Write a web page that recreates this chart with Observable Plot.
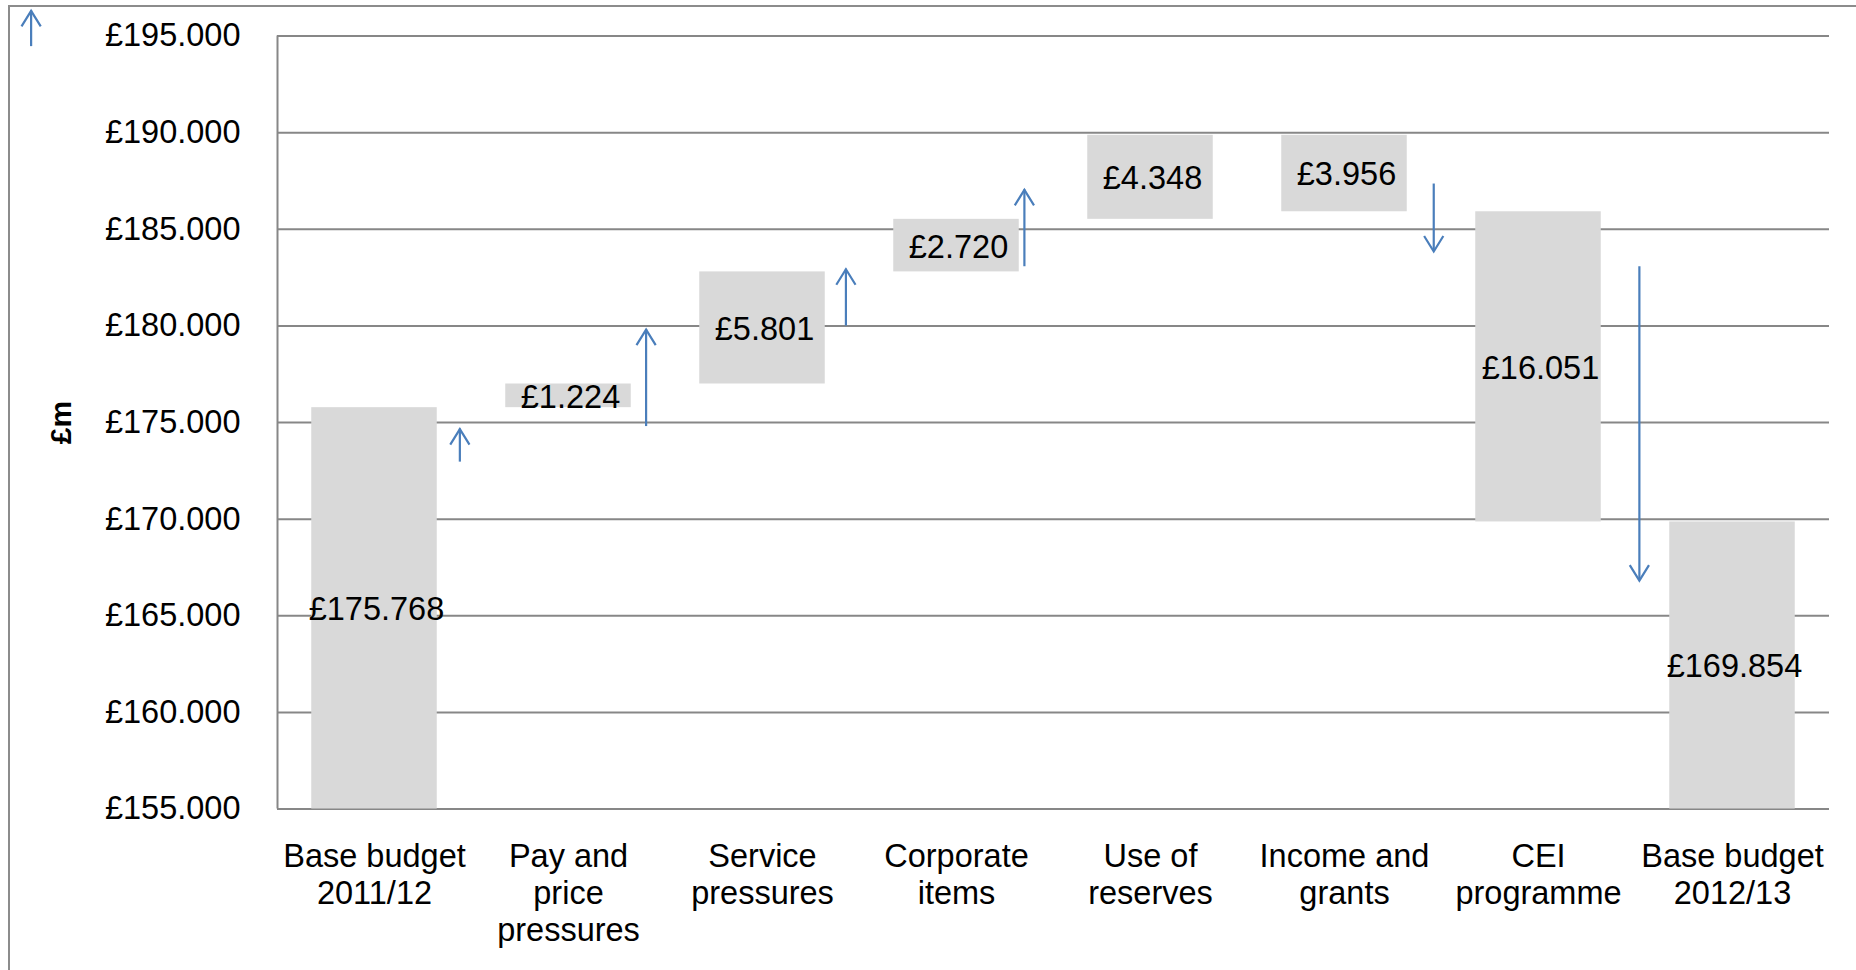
<!DOCTYPE html>
<html>
<head>
<meta charset="utf-8">
<script src="https://cdn.jsdelivr.net/npm/d3@7"></script>
<script src="https://cdn.jsdelivr.net/npm/@observablehq/plot@0.6"></script>
<style>
  html, body { margin: 0; padding: 0; background: #fff; overflow: hidden; }
  #frame { position: absolute; left: 8px; top: 5px; width: 3000px; height: 3000px;
           border-left: 2px solid #8c8c8c; border-top: 2px solid #8c8c8c; }
  #chart { position: absolute; left: 0; top: 0; }
</style>
</head>
<body>
<div id="frame"></div>
<div id="chart"></div>
<script>
// ---- data ----
const categories = [
  "Base budget\n2011/12",
  "Pay and\nprice\npressures",
  "Service\npressures",
  "Corporate\nitems",
  "Use of\nreserves",
  "Income and\ngrants",
  "CEI\nprogramme",
  "Base budget\n2012/13"
];
const changes = [175.768, 1.224, 5.801, 2.720, 4.348, -3.956, -16.051, 169.854];
const isTotal = [true, false, false, false, false, false, false, true];
const yTicks = [155, 160, 165, 170, 175, 180, 185, 190, 195];

// arrows: x in category-index units, start value, end (tip) value
const arrowX    = [0.44, 1.40, 2.43, 3.35, 5.46, 6.52, -1.77];
const arrowFrom = [172.95, 174.79, 179.99, 183.06, 187.34, 183.06, 194.45];
const arrowTo   = [174.66, 179.81, 182.93, 187.04, 183.85, 166.82, 196.30];

// ---- build waterfall table ----
let running = 0;
const bars = categories.map((c, i) => {
  let lo, hi;
  if (isTotal[i]) { lo = 0; hi = changes[i]; running = changes[i]; }
  else { const start = running; running += changes[i]; lo = Math.min(start, running); hi = Math.max(start, running); }
  return { i, c, lo, hi, mid: isTotal[i] ? (Math.max(lo, yTicks[0]) + hi) / 2 : (lo + hi) / 2,
           label: "£" + Math.abs(changes[i]).toFixed(3) };
});
const arrows = arrowX.map((x, k) => ({ x, from: arrowFrom[k], to: arrowTo[k] }));

const half = 0.3235;
const blue = "#4a7ebb";
const gridColor = "#878787";
const fs = 32.5;

const chevron = {
  draw(ctx, size) {
    const r = Math.sqrt(size / Math.PI);
    ctx.moveTo(-0.62 * r, r);
    ctx.lineTo(0, 0);
    ctx.lineTo(0.62 * r, r);
  }
};

const chart = Plot.plot({
  width: 1856,
  height: 970,
  marginLeft: 277,
  marginRight: 27,
  marginTop: 35.5,
  marginBottom: 161.5,
  style: { fontFamily: "'Liberation Sans', Arial, sans-serif", fontSize: fs + "px", background: "transparent", color: "#000", overflow: "visible" },
  x: { type: "linear", domain: [-0.5, 7.5], axis: null },
  y: { domain: [155, 195], axis: null },
  marks: [
    Plot.ruleY(yTicks, { stroke: gridColor, strokeWidth: 2 }),
    Plot.ruleX([-0.5], { y1: 155, y2: 195, stroke: gridColor, strokeWidth: 2 }),
    Plot.rectY(bars, { x1: d => d.i - half, x2: d => d.i + half, y1: "lo", y2: "hi", fill: "#d9d9d9", clip: true }),
    Plot.text(bars, { x: "i", y: "mid", text: "label", fontSize: fs, fill: "#000", dx: 2, dy: 1.5 }),
    Plot.ruleX(arrows, { x: "x", y1: "from", y2: "to", stroke: blue, strokeWidth: 2.2 }),
    Plot.dot(arrows, { x: "x", y: "to", symbol: chevron, r: 15.5, fill: "none", stroke: blue, strokeWidth: 2.2,
                       strokeLinejoin: "miter", rotate: d => d.to < d.from ? 180 : 0 }),
    Plot.axisY({ ticks: yTicks, tickSize: 0, tickPadding: 37, tickFormat: d => "£" + d.toFixed(3), fontSize: fs, label: null }),
    Plot.axisX({ ticks: categories.map((c, i) => i), tickFormat: i => categories[i], tickSize: 0, tickPadding: 32,
                 fontSize: fs, lineHeight: 1.13, label: null }),
    Plot.text(["£m"], { frameAnchor: "left", textAnchor: "middle", dx: -216, rotate: -90, text: d => d,
                        fontSize: 30, fontWeight: "bold", fill: "#000" })
  ]
});
document.getElementById("chart").appendChild(chart);
</script>
</body>
</html>
